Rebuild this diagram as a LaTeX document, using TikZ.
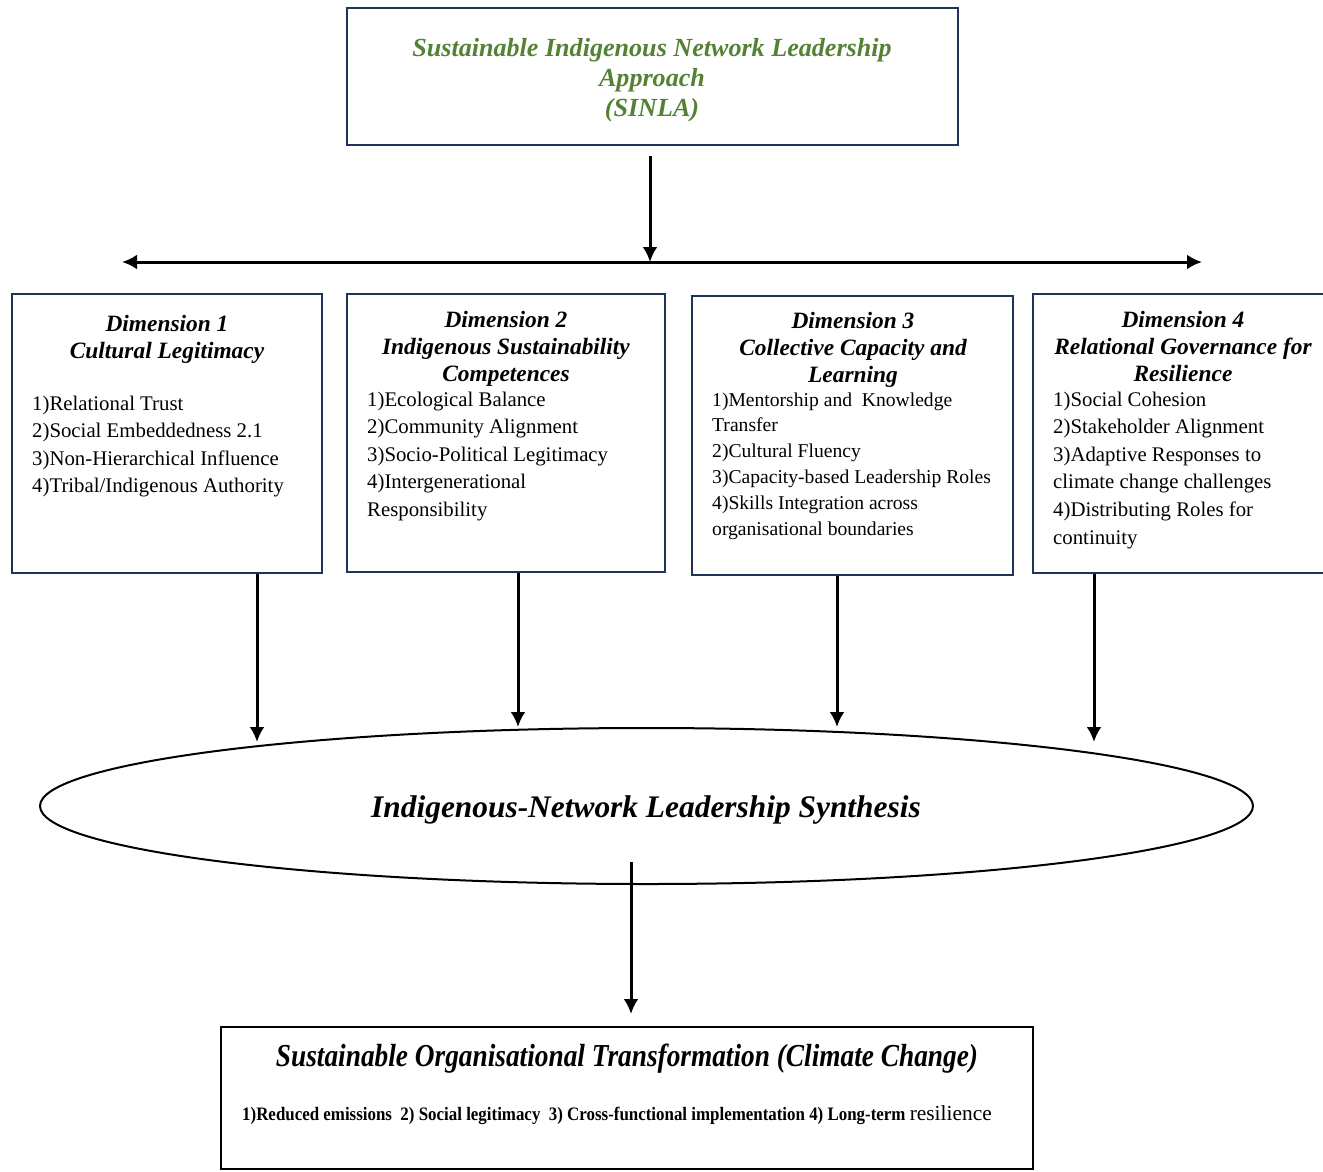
\documentclass[tikz,border=0pt]{standalone}
\usepackage{fontspec}
\setmainfont{Liberation Serif}
\usetikzlibrary{arrows.meta}
\usetikzlibrary{shapes.geometric}
\usetikzlibrary{positioning}
\usepackage{xcolor}
\definecolor{sinlagreen}{RGB}{84,130,53}
\definecolor{boxnavy}{RGB}{31,52,90}

\tikzset{
  dimbox/.style={draw=boxnavy, line width=2.4pt, rectangle, inner sep=0pt},
  head/.style={font=\fontsize{23.4}{27}\selectfont\bfseries\itshape, align=center, inner sep=0pt, anchor=base},
  item/.style={font=\fontsize{20.8}{27.6}\selectfont, align=left, inner sep=0pt, anchor=base west},
  link/.style={->, line width=3pt}
}

\begin{document}
\begin{tikzpicture}[x=1pt, y=-1pt, >={Latex[length=15pt,width=15pt]}]
  \useasboundingbox (0,0) rectangle (1323,1171);

  % Top approach box (base anchors sit on the last line)
  \node[dimbox, minimum width=611pt, minimum height=137pt] (sinla) at (652.5,76.5) {};
  \node[inner sep=0pt, anchor=base, align=center, text=sinlagreen,
        font=\fontsize{26.1}{30}\selectfont\bfseries\itshape] (sinlat) at (652,116.5)
        {Sustainable Indigenous Network Leadership\\Approach\\(SINLA)};

  % Split line
  \coordinate (lft) at (122,262);
  \coordinate (rgt) at (1202,262);
  \coordinate (split) at (650,262);

  % Dimensions
  \node[dimbox, minimum width=310pt, minimum height=279pt] (d1) at (167,433.5) {};
  \node[dimbox, minimum width=318pt, minimum height=278pt] (d2) at (506,433) {};
  \node[dimbox, minimum width=321pt, minimum height=279pt] (d3) at (852.5,435.5) {};
  \node[dimbox, minimum width=312pt, minimum height=279pt] (d4) at (1189,433.5) {};

  \node[head] (d1h) at (167,358) {Dimension 1\\Cultural Legitimacy};
  \node[item] (d1i) at (32,492.8) {1)Relational Trust\\2)Social Embeddedness 2.1\\3)Non-Hierarchical Influence\\4)Tribal/Indigenous Authority};

  \node[head] (d2h) at (506,381) {Dimension 2\\Indigenous Sustainability\\Competences};
  \node[item] (d2i) at (367,516.4) {1)Ecological Balance\\2)Community Alignment\\3)Socio-Political Legitimacy\\4)Intergenerational\\Responsibility};

  \node[head] (d3h) at (853,382) {Dimension 3\\Collective Capacity and\\Learning};
  \node[item, font=\fontsize{19.6}{25.8}\selectfont] (d3i) at (712,535) {1)Mentorship and\ \ Knowledge\\Transfer\\2)Cultural Fluency\\3)Capacity-based Leadership Roles\\4)Skills Integration across\\organisational boundaries};

  \node[head] (d4h) at (1183,381) {Dimension 4\\Relational Governance for\\Resilience};
  \node[item] (d4i) at (1053,544) {1)Social Cohesion\\2)Stakeholder Alignment\\3)Adaptive Responses to\\climate change challenges\\4)Distributing Roles for\\continuity};

  % Synthesis
  \node[draw, ellipse, line width=2pt, minimum width=1213pt, minimum height=156pt, inner sep=0pt] (syn) at (646.5,806) {};
  \node[inner sep=0pt, anchor=base, font=\fontsize{31.4}{36}\selectfont\bfseries\itshape] (synt) at (646,817)
        {Indigenous-Network Leadership Synthesis};

  \coordinate (e1) at (257,742);
  \coordinate (e2) at (518,727);
  \coordinate (e3) at (837,727);
  \coordinate (e4) at (1094,742);
  \coordinate (s0) at (631,862);

  % Outcome box
  \node[draw, line width=2pt, minimum width=812pt, minimum height=142pt, inner sep=0pt] (out) at (627,1098) {};
  \node[inner sep=0pt, anchor=base] (outt) at (627,1066)
        {\scalebox{0.854}[1]{\fontsize{32}{36}\selectfont\bfseries\itshape Sustainable Organisational Transformation (Climate Change)}};
  \node[inner sep=0pt, anchor=base west] (outl) at (242,1120)
        {\scalebox{0.89}[1]{\fontsize{19}{22}\selectfont\bfseries 1)Reduced emissions\hspace{0.5em}2) Social legitimacy\hspace{0.5em}3) Cross-functional implementation 4) Long-term }\fontsize{21.4}{24}\selectfont resilience};

  % Connectors
  \draw[link, shorten <=10pt] (sinla.south -| split) -- (split);
  \draw[<->, line width=3pt] (lft) -- (rgt);
  \draw[link] (d1.south -| e1) -- (e1);
  \draw[link] (d2.south -| e2) -- (e2);
  \draw[link] (d3.south -| e3) -- (e3);
  \draw[link] (d4.south -| e4) -- (e4);
  \draw[link, shorten >=12pt] (s0) -- (out.north -| s0);
\end{tikzpicture}
\end{document}
